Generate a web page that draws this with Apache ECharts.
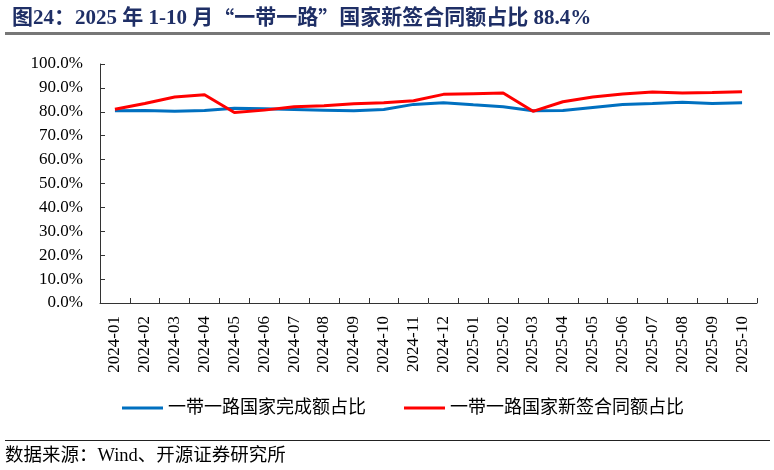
<!DOCTYPE html>
<html>
<head>
<meta charset="utf-8">
<script src="https://cdn.jsdelivr.net/npm/echarts@6/dist/echarts.min.js"></script>
<style>
  html, body { margin: 0; padding: 0; background: #fff; }
  #chart { width: 774px; height: 470px; }
</style>
</head>
<body>
<div id="chart"></div>
<script>
// 月份
const months = [
  '2024-01', '2024-02', '2024-03', '2024-04', '2024-05', '2024-06',
  '2024-07', '2024-08', '2024-09', '2024-10', '2024-11', '2024-12',
  '2025-01', '2025-02', '2025-03', '2025-04', '2025-05', '2025-06',
  '2025-07', '2025-08', '2025-09', '2025-10'
];

// 一带一路国家完成额占比 (%)
const completedShare = [
  80.4, 80.5, 80.2, 80.5, 81.5, 81.3, 81.0, 80.7, 80.4, 81.0, 83.1, 83.8,
  82.9, 82.1, 80.4, 80.5, 81.8, 83.1, 83.5, 84.0, 83.5, 83.8
];

// 一带一路国家新签合同额占比 (%)
const newContractShare = [
  81.1, 83.5, 86.2, 87.1, 79.7, 80.7, 82.1, 82.5, 83.4, 83.8, 84.6, 87.3,
  87.6, 87.9, 80.2, 84.2, 86.2, 87.4, 88.3, 87.9, 88.1, 88.4
];

const serif = '"Liberation Serif", "Times New Roman", "Noto Sans CJK SC", serif';
const cjk = '"Noto Sans CJK SC", sans-serif';

const chart = echarts.init(document.getElementById('chart'));

const option = {
  animation: false,
  backgroundColor: '#fff',
  title: {
    // 引号用全角字形
    text: '图24：2025 年 1-10 月{q|“}一带一路{q|”}国家新签合同额占比 88.4%',
    left: 7,
    top: 3,
    textStyle: {
      fontFamily: serif,
      fontSize: 21,
      fontWeight: 'bold',
      color: '#1F2F66',
      rich: {
        q: { fontFamily: cjk, fontSize: 21, fontWeight: 'bold', color: '#1F2F66' },
      },
    },
  },
  graphic: [
    {
      type: 'line',
      shape: { x1: 5, y1: 33.5, x2: 770, y2: 33.5 },
      style: { stroke: '#777', lineWidth: 3 },
    },
    {
      type: 'line',
      shape: { x1: 5, y1: 440.5, x2: 770, y2: 440.5 },
      style: { stroke: '#222', lineWidth: 1.2 },
    },
    {
      type: 'text',
      left: 5,
      top: 447,
      style: {
        text: '数据来源：Wind、开源证券研究所',
        font: '18.5px ' + serif,
        fill: '#000',
      },
    },
  ],
  legend: {
    left: 117,
    top: 394,
    itemWidth: 41,
    itemHeight: 3,
    itemGap: 38,
    icon: 'rect',
    textStyle: { fontFamily: serif, fontSize: 18, color: '#000' },
    data: ['一带一路国家完成额占比', '一带一路国家新签合同额占比'],
  },
  grid: {
    left: 100,
    right: 17,
    top: 64,
    bottom: 167,
    containLabel: false,
  },
  xAxis: {
    type: 'category',
    data: months,
    boundaryGap: true,
    axisLine: { lineStyle: { color: '#333', width: 1 } },
    axisTick: { show: true, inside: true, length: 5, alignWithLabel: false, lineStyle: { color: '#333' } },
    axisLabel: {
      rotate: 90,
      margin: 13,
      interval: 0,
      fontFamily: serif,
      fontSize: 17,
      color: '#000',
    },
    splitLine: { show: false },
  },
  yAxis: {
    type: 'value',
    min: 0,
    max: 100,
    interval: 10,
    axisLine: { show: true, lineStyle: { color: '#333', width: 1 } },
    axisTick: { show: true, inside: true, length: 5, lineStyle: { color: '#333' } },
    axisLabel: {
      margin: 17,
      fontFamily: serif,
      fontSize: 17,
      color: '#000',
      formatter: (v) => v.toFixed(1) + '%',
    },
    splitLine: { show: false },
  },
  series: [
    {
      name: '一带一路国家完成额占比',
      type: 'line',
      data: completedShare,
      symbol: 'none',
      lineStyle: { color: '#0070C0', width: 3 },
      itemStyle: { color: '#0070C0' },
    },
    {
      name: '一带一路国家新签合同额占比',
      type: 'line',
      data: newContractShare,
      symbol: 'none',
      lineStyle: { color: '#FF0000', width: 3 },
      itemStyle: { color: '#FF0000' },
    },
  ],
};

chart.setOption(option);
</script>
</body>
</html>
